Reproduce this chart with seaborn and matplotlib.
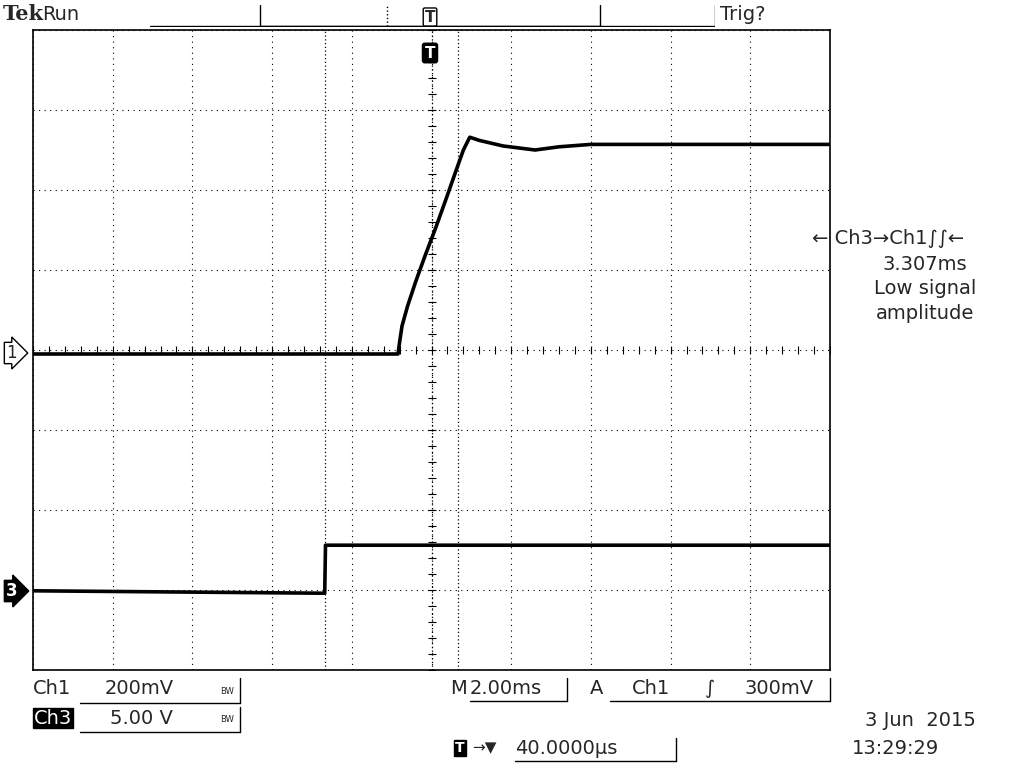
import matplotlib
matplotlib.use("Agg")
import matplotlib.pyplot as plt
import seaborn as sns
import pandas as pd
import numpy as np

# traces, in screen divisions (x: 0..10, y: -4..4)
ch1_t = [0.0, 4.58, 4.60, 4.63, 4.70, 4.80, 4.92, 5.05, 5.18, 5.30, 5.40, 5.48, 5.6, 5.9, 6.3, 6.6, 7.0, 8.0, 10.0]
ch1_v = [-0.05, -0.05, 0.10, 0.30, 0.55, 0.85, 1.18, 1.52, 1.88, 2.22, 2.50, 2.66, 2.62, 2.55, 2.50, 2.54, 2.57, 2.57, 2.57]
ch3_t = [0.0, 3.62, 3.66, 3.67, 10.0]
ch3_v = [-3.01, -3.04, -3.04, -2.44, -2.44]
cursor_x = [3.67, 5.33]
trig_x = 5.0

sns.set_style("white")
plt.rcParams["font.family"] = ["DejaVu Sans"]

fig = plt.figure(figsize=(10.15, 7.63), dpi=100)
ax = fig.add_axes([33 / 1015, 93 / 763, 797 / 1015, 640 / 763])

df1 = pd.DataFrame({"t": ch1_t, "v": ch1_v})
df3 = pd.DataFrame({"t": ch3_t, "v": ch3_v})
sns.lineplot(data=df1, x="t", y="v", ax=ax, color="black", lw=2.6, sort=False)
sns.lineplot(data=df3, x="t", y="v", ax=ax, color="black", lw=2.6, sort=False)

ax.set_xlim(0, 10)
ax.set_ylim(-4, 4)
ax.set_xticks(np.arange(0, 11, 1))
ax.set_yticks(np.arange(-4, 5, 1))
ax.grid(True, color="black", linestyle=(0, (1, 4)), lw=0.8)
ax.tick_params(length=0, labelbottom=False, labelleft=False)
ax.set_xlabel("")
ax.set_ylabel("")
for s in ax.spines.values():
    s.set_linewidth(1.2)
    s.set_color("black")

# crosshair sub-division ticks
sub = np.arange(0, 10.01, 0.2)
ax.plot(sub, np.zeros_like(sub), "|", color="black", ms=6, mew=0.8)
ax.plot(np.full_like(np.arange(-4, 4.01, 0.2), 5), np.arange(-4, 4.01, 0.2), "_", color="black", ms=6, mew=0.8)
for c in cursor_x:
    ax.axvline(c, color="black", linestyle=(0, (1, 2)), lw=0.9)
ax.axvline(trig_x, color="black", linestyle=(0, (1, 2)), lw=0.9)

# header
fig.text(3 / 1015, 1 - 14 / 763, "Tek", fontsize=15, fontweight="bold", family="DejaVu Serif", va="center")
fig.text(42 / 1015, 1 - 14 / 763, "Run", fontsize=14, va="center")
fig.text(720 / 1015, 1 - 14 / 763, "Trig?", fontsize=14, va="center")
hdr = fig.add_axes([150 / 1015, 1 - 27 / 763, 565 / 1015, 22 / 763])
hdr.axis("off")
hdr.set_xlim(0, 565); hdr.set_ylim(0, 22)
hdr.plot([0, 565], [1, 1], color="black", lw=1)
hdr.plot([110, 110, 450, 450], [22, 1, 1, 22], color="black", lw=1)
hdr.plot([565, 565], [1, 22], color="black", lw=1)
hdr.plot([237, 237], [1, 22], color="black", lw=1, linestyle=":")
hdr.text(280, 10, "T", fontsize=11, fontweight="bold", ha="center", va="center",
         bbox=dict(boxstyle="round,pad=0.1", fc="white", ec="black"))
fig.text(430 / 1015, 1 - 53 / 763, "T", fontsize=11, fontweight="bold", color="white", ha="center", va="center",
         bbox=dict(boxstyle="round,pad=0.15", fc="black", ec="black"))

# channel markers
fig.text(6 / 1015, 1 - 353 / 763, "1", fontsize=12, va="center",
         bbox=dict(boxstyle="rarrow,pad=0.1", fc="white", ec="black"))
fig.text(6 / 1015, 1 - 591 / 763, "3", fontsize=12, va="center", color="white", fontweight="bold",
         bbox=dict(boxstyle="rarrow,pad=0.1", fc="black", ec="black"))

# right annotation
fig.text(812 / 1015, 1 - 238 / 763, "\u2190 Ch3\u2192Ch1\u222b\u222b\u2190", fontsize=14, va="center")
for yy, s in [(264, "3.307ms"), (289, "Low signal"), (314, "amplitude")]:
    fig.text(925 / 1015, 1 - yy / 763, s, fontsize=14, ha="center", va="center")

# footer
fs = 14
fig.text(33 / 1015, 1 - 689 / 763, "Ch1", fontsize=fs, va="center")
fig.text(105 / 1015, 1 - 689 / 763, "200mV", fontsize=fs, va="center")
fig.text(220 / 1015, 1 - 691 / 763, "BW", fontsize=6, va="center")
fig.text(34 / 1015, 1 - 718 / 763, "Ch3", fontsize=fs, va="center", color="white",
         bbox=dict(boxstyle="square,pad=0.05", fc="black", ec="black"))
fig.text(110 / 1015, 1 - 718 / 763, "5.00 V", fontsize=fs, va="center")
fig.text(220 / 1015, 1 - 720 / 763, "BW", fontsize=6, va="center")
fig.text(450 / 1015, 1 - 689 / 763, "M", fontsize=fs, va="center")
fig.text(470 / 1015, 1 - 689 / 763, "2.00ms", fontsize=fs, va="center")
fig.text(590 / 1015, 1 - 689 / 763, "A", fontsize=fs, va="center")
fig.text(632 / 1015, 1 - 689 / 763, "Ch1", fontsize=fs, va="center")
fig.text(705 / 1015, 1 - 689 / 763, "\u222b", fontsize=fs, va="center")
fig.text(745 / 1015, 1 - 689 / 763, "300mV", fontsize=fs, va="center")
fig.text(455 / 1015, 1 - 748 / 763, "T", fontsize=10, va="center", color="white", fontweight="bold",
         bbox=dict(boxstyle="square,pad=0.1", fc="black", ec="black"))
fig.text(472 / 1015, 1 - 748 / 763, "\u2192\u25bc", fontsize=11, va="center")
fig.text(515 / 1015, 1 - 748 / 763, "40.0000\u00b5s", fontsize=fs, va="center")
fig.text(865 / 1015, 1 - 721 / 763, "3 Jun  2015", fontsize=fs, va="center")
fig.text(852 / 1015, 1 - 748 / 763, "13:29:29", fontsize=fs, va="center")

ul = fig.add_axes([0, 0, 1, 1], facecolor="none")
ul.axis("off"); ul.set_xlim(0, 1015); ul.set_ylim(763, 0)
for xs, y in [((80, 240), 703), ((80, 240), 732), ((470, 567), 701), ((610, 830), 701), ((515, 676), 761)]:
    ul.plot(xs, [y, y], color="black", lw=1)
ul.plot([240, 240], [678, 703], color="black", lw=1)
ul.plot([240, 240], [707, 732], color="black", lw=1)
ul.plot([567, 567], [678, 701], color="black", lw=1)
ul.plot([830, 830], [678, 701], color="black", lw=1)
ul.plot([676, 676], [738, 761], color="black", lw=1)

fig.savefig("out.png", dpi=100)
